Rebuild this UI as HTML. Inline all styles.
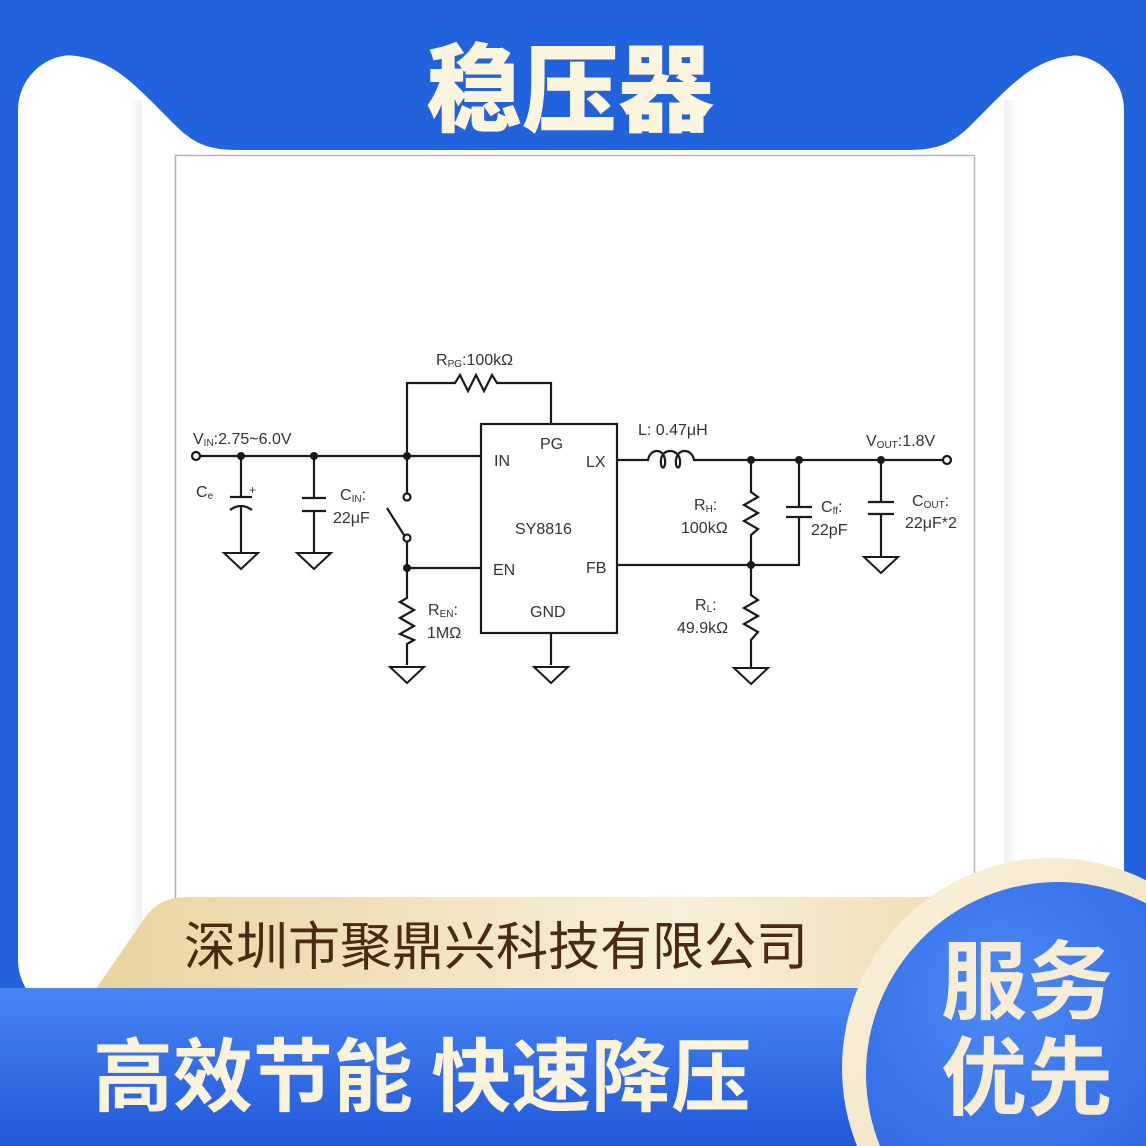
<!DOCTYPE html>
<html><head><meta charset="utf-8"><style>
html,body{margin:0;padding:0;background:#2162dd;overflow:hidden;width:1146px;height:1146px;}
svg{display:block}
</style></head><body>
<svg width="1146" height="1146" viewBox="0 0 1146 1146" xmlns="http://www.w3.org/2000/svg">
<defs>
<linearGradient id="gold" x1="0" y1="0" x2="1" y2="0">
<stop offset="0" stop-color="#e9d49f"/><stop offset="0.7" stop-color="#f8efd9"/><stop offset="1" stop-color="#efe0b8"/>
</linearGradient>
<linearGradient id="bar" x1="0" y1="0" x2="0" y2="1">
<stop offset="0" stop-color="#4785f4"/><stop offset="1" stop-color="#2158da"/>
</linearGradient>
<radialGradient id="circ" cx="0.35" cy="0.3" r="0.8">
<stop offset="0" stop-color="#4c8af5"/><stop offset="1" stop-color="#2459dc"/>
</radialGradient>
<linearGradient id="rim" x1="0" y1="0" x2="1" y2="1">
<stop offset="0" stop-color="#fbf3df"/><stop offset="1" stop-color="#e8d5a5"/>
</linearGradient>
<linearGradient id="shl" x1="0" y1="0" x2="1" y2="0">
<stop offset="0" stop-color="#ffffff"/><stop offset="1" stop-color="#f1f1f1"/>
</linearGradient>
</defs>
<rect width="1146" height="1146" fill="#2162dd"/>
<rect x="18" y="55" width="1106" height="960" rx="55" fill="#ffffff"/>
<rect x="128" y="100" width="14" height="900" fill="url(#shl)"/>
<rect x="1004" y="100" width="14" height="900" fill="url(#shl)" transform="translate(2022,0) scale(-1,1)"/>
<path d="M0 0 H1146 V55 H1086 C1036 55 1016 80 971 125 C951 145 936 150 906 150 H240 C210 150 195 145 175 125 C130 80 110 55 60 55 H0 Z" fill="#2162dd"/>
<text x="570" y="124" text-anchor="middle" font-family="'Noto Sans CJK SC',sans-serif" font-weight="900" font-size="96" fill="#fdf5dd">稳压器</text>
<rect x="175.5" y="155.5" width="799" height="760" fill="#fff" stroke="#b4b4b4" stroke-width="1.5"/>

<g stroke="#1a1a1a" stroke-width="2.2" fill="none">
<path d="M200 456 H481"/>
<circle cx="196" cy="456" r="4" fill="#fff"/>
<path d="M241 456 V497 M230 497 H252 M230 510 Q241 502 252 510 M241 505 V553"/>
<path d="M314 456 V498 M302 498 H326 M302 511 H326 M314 511 V553"/>
<path d="M407 456 V493 M407 456 V383 H455 L460 375 L468 391 L476 375 L484 391 L492 375 L497 383 H551 V424"/>
<circle cx="407" cy="497" r="3.5" fill="#fff"/>
<circle cx="407" cy="538" r="3.5" fill="#fff"/>
<path d="M387 508 L404 535 M407 542 V598 L400 602 L414 610 L400 618 L414 626 L400 634 L414 640 L407 644 V665"/>
<path d="M407 568 H481"/>
<rect x="481" y="424" width="136" height="209"/>
<path d="M551 633 V665"/>
<path d="M617 460 H648 C650 448 664 448 665 460 C666 470 660 470 661 460 C662 448 678 448 680 460 C681 470 675 470 676 460 C677 448 692 448 694 460 H713 H943"/>
<circle cx="947" cy="460" r="4" fill="#fff"/>
<path d="M751 460 V492 L758 497 L744 505 L758 513 L744 521 L758 529 L751 535 V595 L758 600 L744 608 L758 616 L744 624 L758 632 L751 640 V667"/>
<path d="M617 565 H799 V517 M799 460 V507 M786 507 H812 M786 517 H812"/>
<path d="M881 460 V502 M868 502 H894 M868 514 H894 M881 514 V557"/>
<g stroke-width="2">
<path d="M224 553 H258 L241 569 Z"/>
<path d="M297 553 H331 L314 569 Z"/>
<path d="M390 667 H424 L407 683 Z"/>
<path d="M534 667 H568 L551 683 Z"/>
<path d="M734 668 H768 L751 684 Z"/>
<path d="M864 557 H898 L881 573 Z"/>
</g>
</g>
<g fill="#1a1a1a">
<circle cx="241" cy="456" r="4"/><circle cx="314" cy="456" r="4"/><circle cx="407" cy="456" r="4"/>
<circle cx="407" cy="568" r="4"/><circle cx="751" cy="460" r="4"/><circle cx="799" cy="460" r="4"/>
<circle cx="881" cy="460" r="4"/><circle cx="751" cy="565" r="4"/>
</g>
<g font-family="'Liberation Sans',sans-serif" font-size="16" fill="#333">
<text x="193" y="444">V<tspan font-size="10" dy="2">IN</tspan><tspan dy="-2">:2.75~6.0V</tspan></text>
<text x="436" y="365">R<tspan font-size="10" dy="2">PG</tspan><tspan dy="-2">:100kΩ</tspan></text>
<text x="196" y="497">C<tspan font-size="10" dy="2">e</tspan></text>
<text x="249" y="494" font-size="12">+</text>
<text x="340" y="500">C<tspan font-size="10" dy="2">IN</tspan><tspan dy="-2">:</tspan></text>
<text x="333" y="523">22μF</text>
<text x="494" y="466">IN</text>
<text x="540" y="449">PG</text>
<text x="586" y="467">LX</text>
<text x="515" y="534">SY8816</text>
<text x="493" y="575">EN</text>
<text x="586" y="573">FB</text>
<text x="530" y="617">GND</text>
<text x="428" y="615">R<tspan font-size="10" dy="2">EN</tspan><tspan dy="-2">:</tspan></text>
<text x="427" y="638">1MΩ</text>
<text x="638" y="435">L: 0.47μH</text>
<text x="866" y="446">V<tspan font-size="10" dy="2">OUT</tspan><tspan dy="-2">:1.8V</tspan></text>
<text x="694" y="510">R<tspan font-size="10" dy="2">H</tspan><tspan dy="-2">:</tspan></text>
<text x="681" y="533">100kΩ</text>
<text x="821" y="512">C<tspan font-size="10" dy="2">ff</tspan><tspan dy="-2">:</tspan></text>
<text x="811" y="535">22pF</text>
<text x="912" y="506">C<tspan font-size="10" dy="2">OUT</tspan><tspan dy="-2">:</tspan></text>
<text x="905" y="528">22μF*2</text>
<text x="695" y="610">R<tspan font-size="10" dy="2">L</tspan><tspan dy="-2">:</tspan></text>
<text x="677" y="633">49.9kΩ</text>
</g>

<path d="M95 990 L140 925 C152 905 165 897 190 897 H930 V990 Z" fill="url(#gold)"/>
<text x="496" y="965" text-anchor="middle" font-family="'Noto Sans CJK SC',sans-serif" font-size="52" fill="#4a2a10">深圳市聚鼎兴科技有限公司</text>
<rect x="0" y="988" width="1146" height="158" fill="url(#bar)"/>
<text x="422" y="1105" text-anchor="middle" font-family="'Noto Sans CJK SC',sans-serif" font-weight="700" font-size="80" fill="#fbf3dc">高效节能 快速降压</text>
<circle cx="1052" cy="1068" r="210" fill="url(#rim)"/>
<circle cx="1058" cy="1074" r="192" fill="url(#circ)"/>
<text x="1027" y="1012" text-anchor="middle" font-family="'Noto Sans CJK SC',sans-serif" font-weight="700" font-size="86" fill="#f7edd6">服务</text>
<text x="1027" y="1108" text-anchor="middle" font-family="'Noto Sans CJK SC',sans-serif" font-weight="700" font-size="86" fill="#f7edd6">优先</text>
</svg>
</body></html>
